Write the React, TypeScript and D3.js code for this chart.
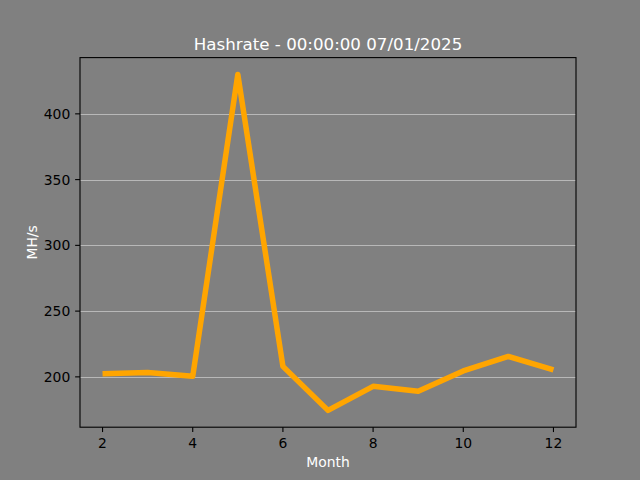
import React from "react";
import * as d3 from "d3";

const months: number[] = [2, 3, 4, 5, 6, 7, 8, 9, 10, 11, 12];
const hashrate: number[] = [202.3, 203.3, 200.4, 430, 208, 174.5, 192.8, 189, 204.5, 215.5, 205.3];
const xTicks: number[] = [2, 4, 6, 8, 10, 12];
const yTicks: number[] = [200, 250, 300, 350, 400];
const title = "Hashrate - 00:00:00 07/01/2025";
const xLabel = "Month";
const yLabel = "MH/s";

const W = 640, H = 480;
const L = 80, R = 576, T = 57.6, B = 427.2;
const FONT = "DejaVu Sans, sans-serif";

export default function App() {
  const xMin = d3.min(months)!, xMax = d3.max(months)!;
  const yMin = d3.min(hashrate)!, yMax = d3.max(hashrate)!;
  const xPad = (xMax - xMin) * 0.05, yPad = (yMax - yMin) * 0.05;
  const x = d3.scaleLinear().domain([xMin - xPad, xMax + xPad]).range([L, R]);
  const y = d3.scaleLinear().domain([yMin - yPad, yMax + yPad]).range([B, T]);
  const line = d3.line<number>().x((_, i) => x(months[i])).y((d) => y(d));
  const tick = 4.86;
  return (
    <svg width={W} height={H} style={{ position: "absolute", left: 0, top: 0, display: "block" }}>
      <rect x={0} y={0} width={W} height={H} fill="#808080" />
      <defs>
        <clipPath id="clip">
          <rect x={L} y={T} width={R - L} height={B - T} />
        </clipPath>
      </defs>
      {yTicks.map((t) => (
        <line key={"g" + t} x1={L} x2={R} y1={Math.round(y(t)) + 0.5} y2={Math.round(y(t)) + 0.5} stroke="#b8b8b8" strokeWidth={1} />
      ))}
      <path d={line(hashrate) || ""} fill="none" stroke="#ffa500" strokeWidth={5.5} strokeLinejoin="round" strokeLinecap="butt" clipPath="url(#clip)" />
      <rect x={L} y={T} width={R - L} height={B - T} fill="none" stroke="#000" strokeWidth={1.1} />
      {xTicks.map((t) => (
        <g key={"x" + t}>
          <line x1={x(t)} x2={x(t)} y1={B} y2={B + tick} stroke="#000" strokeWidth={1.1} />
          <text x={x(t)} y={447.5} textAnchor="middle" fontFamily={FONT} fontSize={13.9} fill="#000">{t}</text>
        </g>
      ))}
      {yTicks.map((t) => (
        <g key={"y" + t}>
          <line x1={L - tick} x2={L} y1={y(t)} y2={y(t)} stroke="#000" strokeWidth={1.1} />
          <text x={L - tick - 4.9} y={y(t) + 5} textAnchor="end" fontFamily={FONT} fontSize={13.9} fill="#000">{t}</text>
        </g>
      ))}
      <text x={(L + R) / 2} y={49.5} textAnchor="middle" fontFamily={FONT} fontSize={16.67} fill="#fff">{title}</text>
      <text x={(L + R) / 2} y={466.5} textAnchor="middle" fontFamily={FONT} fontSize={13.9} fill="#fff">{xLabel}</text>
      <text transform={`translate(36.5, ${(T + B) / 2}) rotate(-90)`} textAnchor="middle" fontFamily={FONT} fontSize={13.9} fill="#fff">{yLabel}</text>
    </svg>
  );
}
